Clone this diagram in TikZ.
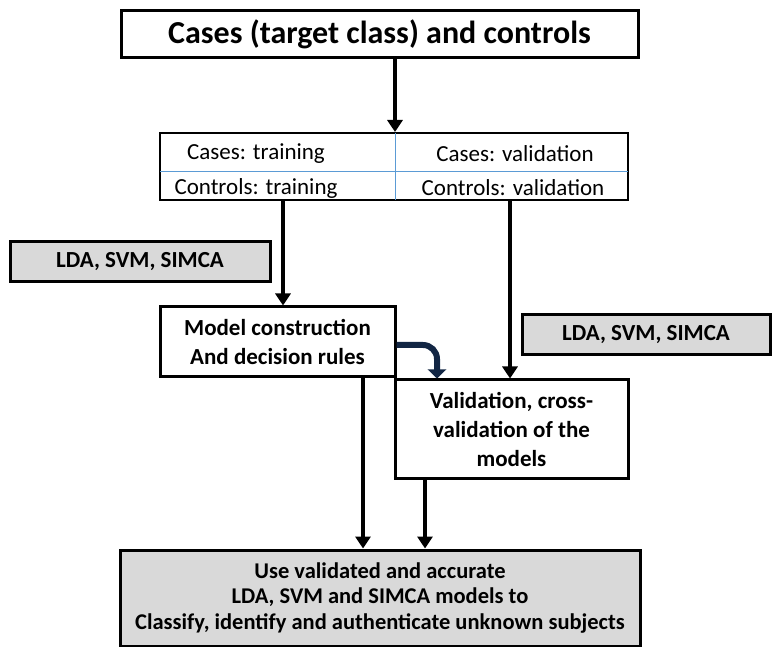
\documentclass[tikz,border=0pt]{standalone}
\usepackage{fontspec}
\setmainfont{Carlito}
\usetikzlibrary{arrows.meta,positioning}
\definecolor{boxgray}{RGB}{217,217,217}
\definecolor{cellblue}{RGB}{91,155,213}
\definecolor{navyarrow}{RGB}{18,38,68}
\tikzset{
  box/.style={draw=black, line width=3pt, fill=white, align=center, inner sep=2pt,
    font=\fontsize{23}{29}\selectfont\bfseries},
  graybox/.style={box, fill=boxgray},
  cell/.style={font=\fontsize{23}{26}\selectfont, inner sep=0pt},
  flow/.style={line width=4pt, -{Triangle[width=15pt,length=12pt]}},
}
\begin{document}
\begin{tikzpicture}[x=1pt,y=-1pt]
\useasboundingbox (0,0) rectangle (772,647);
% top box
\node[box, minimum width=517pt, minimum height=47pt, font=\fontsize{32}{36}\selectfont\bfseries] (top) at (379.5,34) {Cases (target class) and controls};
% table
\node[draw=black, line width=2pt, minimum width=468pt, minimum height=67pt, inner sep=0pt] (tab) at (394,166.5) {};
\coordinate (tabmidtop) at (395,133);
\coordinate (tabmidbot) at (395,200);
\coordinate (tabrowl) at (160,172);
\coordinate (tabrowr) at (628,172);
\draw[cellblue, line width=1pt] (tabmidtop) -- (tabmidbot);
\draw[cellblue, line width=1pt] (tabrowl) -- (tabrowr);
\node[cell] (ct) at (256,154) {Cases: training};
\node[cell] (cv) at (515,154) {Cases: validation};
\node[cell] (kt) at (256,188) {Controls: training};
\node[cell] (kv) at (513,188) {Controls: validation};
% method boxes
\node[graybox, minimum width=260pt, minimum height=40pt] (lda1) at (140,262) {LDA, SVM, SIMCA};
\node[graybox, minimum width=248pt, minimum height=40pt] (lda2) at (646,335) {LDA, SVM, SIMCA};
% model box
\node[box, minimum width=235pt, minimum height=70pt] (model) at (277.5,342) {Model construction\\And decision rules};
% validation box
\node[box, minimum width=233pt, minimum height=98pt] (valid) at (511.5,429) {Validation, cross-\\validation of the\\models};
% bottom box
\node[graybox, minimum width=520pt, minimum height=96pt, font=\fontsize{22.5}{25.5}\selectfont\bfseries] (use) at (380,598) {Use validated and accurate\\LDA, SVM and SIMCA models to\\Classify, identify and authenticate unknown subjects};
% arrows
\draw[flow] (top.south -| tabmidtop) -- (tab.north -| tabmidtop);
\draw[flow] (tab.south -| 283,0) -- (model.north -| 283,0);
\draw[flow] (tab.south -| 510,0) -- (valid.north -| 510,0);
\draw[flow] (model.south -| 363,0) -- (use.north -| 363,0);
\draw[flow] (valid.south -| 425,0) -- (use.north -| 425,0);
\coordinate (bendstart) at (model.east |- 0,345);
\coordinate (bendend) at (valid.north -| 437,0);
\draw[navyarrow, line width=6pt, rounded corners=14pt, -{Triangle[width=18pt,length=9pt]}]
  (bendstart) -- (437,345) -- (bendend);
\end{tikzpicture}
\end{document}
